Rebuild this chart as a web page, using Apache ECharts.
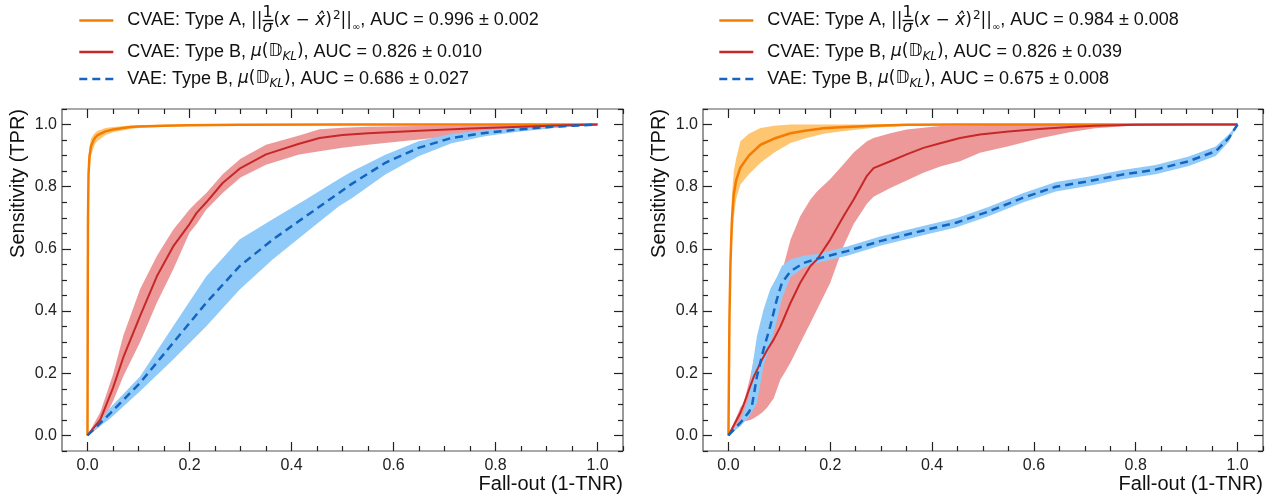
<!DOCTYPE html>
<html>
<head>
<meta charset="utf-8">
<script src="https://cdn.jsdelivr.net/npm/echarts@6/dist/echarts.min.js"></script>
<style>
html,body{margin:0;padding:0;background:#fff;}
#chart{width:1276px;height:500px;}
</style>
</head>
<body>
<div id="chart"></div>
<script>
// ---------- tick values ----------
const xMajor = [0, 0.2, 0.4, 0.6, 0.8, 1.0];
const xMinor = [0.05, 0.1, 0.15, 0.25, 0.3, 0.35, 0.45, 0.5, 0.55, 0.65, 0.7, 0.75, 0.85, 0.9, 0.95, 1.05];
const yMajor = [0, 0.2, 0.4, 0.6, 0.8, 1.0];
const yMinor = [-0.05, 0.05, 0.1, 0.15, 0.25, 0.3, 0.35, 0.45, 0.5, 0.55, 0.65, 0.7, 0.75, 0.85, 0.9, 0.95, 1.05];

// ---------- legend texts ----------
const aucLeft = ['0.996 ± 0.002', '0.826 ± 0.010', '0.686 ± 0.027'];
const aucRight = ['0.984 ± 0.008', '0.826 ± 0.039', '0.675 ± 0.008'];

// ---------- Left panel ----------
const L_A_x = [0, 0.0005, 0.001, 0.002, 0.004, 0.007, 0.012, 0.015, 0.02, 0.03, 0.035, 0.05, 0.084, 0.1, 0.15, 0.2, 0.3, 0.5, 1.0];
const L_A_mean = [0, 0.45, 0.7, 0.84, 0.9, 0.93, 0.95, 0.958, 0.966, 0.974, 0.978, 0.984, 0.992, 0.994, 0.996, 0.998, 0.999, 1.0, 1.0];
const L_A_lo = [0, 0.35, 0.6, 0.78, 0.86, 0.9, 0.925, 0.938, 0.948, 0.96, 0.966, 0.975, 0.986, 0.989, 0.993, 0.996, 0.998, 1.0, 1.0];
const L_A_hi = [0, 0.55, 0.78, 0.88, 0.93, 0.955, 0.968, 0.974, 0.98, 0.986, 0.989, 0.992, 0.997, 0.998, 0.999, 1.0, 1.0, 1.0, 1.0];

const L_B_x = [0, 0.01, 0.025, 0.05, 0.07, 0.103, 0.136, 0.168, 0.2, 0.214, 0.233, 0.265, 0.3, 0.35, 0.415, 0.455, 0.5, 0.55, 0.65, 0.75, 0.85, 0.92, 1.0];
const L_B_mean = [0, 0.02, 0.05, 0.153, 0.25, 0.384, 0.512, 0.608, 0.68, 0.716, 0.75, 0.812, 0.86, 0.904, 0.938, 0.957, 0.966, 0.972, 0.98, 0.987, 0.993, 0.997, 1.0];
const L_B_lo = [0, 0.01, 0.03, 0.11, 0.19, 0.3, 0.427, 0.534, 0.652, 0.68, 0.727, 0.78, 0.83, 0.871, 0.904, 0.914, 0.925, 0.935, 0.952, 0.968, 0.98, 0.99, 1.0];
const L_B_hi = [0, 0.03, 0.075, 0.196, 0.32, 0.47, 0.577, 0.662, 0.727, 0.75, 0.78, 0.84, 0.89, 0.935, 0.965, 0.985, 0.99, 0.993, 0.995, 0.997, 0.998, 0.999, 1.0];

const L_V_x = [0, 0.045, 0.103, 0.168, 0.233, 0.298, 0.363, 0.428, 0.493, 0.519, 0.584, 0.649, 0.714, 0.779, 0.844, 0.909, 1.0];
const L_V_mean = [0, 0.072, 0.169, 0.298, 0.427, 0.544, 0.63, 0.705, 0.78, 0.81, 0.877, 0.925, 0.957, 0.973, 0.984, 0.993, 1.0];
const L_V_lo = [0, 0.055, 0.142, 0.244, 0.351, 0.469, 0.566, 0.652, 0.737, 0.764, 0.839, 0.898, 0.94, 0.962, 0.977, 0.988, 1.0];
const L_V_hi = [0, 0.09, 0.19, 0.351, 0.512, 0.63, 0.695, 0.759, 0.825, 0.85, 0.903, 0.946, 0.97, 0.982, 0.99, 0.996, 1.0];

// ---------- Right panel ----------
const R_A_x = [0, 0.001, 0.002, 0.004, 0.007, 0.0105, 0.015, 0.0235, 0.04, 0.063, 0.09, 0.122, 0.15, 0.187, 0.22, 0.285, 0.35, 0.45, 1.0];
const R_A_mean = [0, 0.2, 0.38, 0.56, 0.7, 0.775, 0.82, 0.862, 0.9, 0.935, 0.955, 0.972, 0.98, 0.988, 0.991, 0.996, 0.999, 1.0, 1.0];
const R_A_lo = [0, 0.14, 0.3, 0.48, 0.62, 0.7, 0.76, 0.807, 0.84, 0.877, 0.91, 0.941, 0.955, 0.97, 0.978, 0.99, 0.995, 1.0, 1.0];
const R_A_hi = [0, 0.26, 0.46, 0.64, 0.78, 0.85, 0.89, 0.946, 0.97, 0.989, 0.996, 1.0, 1.0, 1.0, 1.0, 1.0, 1.0, 1.0, 1.0];

const R_B_x = [0, 0.0235, 0.03, 0.043, 0.05, 0.066, 0.076, 0.089, 0.102, 0.108, 0.122, 0.141, 0.161, 0.174, 0.2, 0.226, 0.246, 0.272, 0.285, 0.318, 0.35, 0.383, 0.416, 0.455, 0.494, 0.55, 0.61, 0.67, 0.72, 0.8, 0.9, 1.0];
const R_B_mean = [0, 0.073, 0.1, 0.159, 0.19, 0.244, 0.275, 0.309, 0.35, 0.373, 0.427, 0.491, 0.545, 0.566, 0.63, 0.705, 0.759, 0.835, 0.86, 0.882, 0.904, 0.925, 0.94, 0.957, 0.968, 0.978, 0.986, 0.992, 0.996, 0.999, 1.0, 1.0];
const R_B_lo = [0, 0.045, 0.045, 0.05, 0.055, 0.073, 0.09, 0.12, 0.18, 0.195, 0.235, 0.297, 0.362, 0.405, 0.491, 0.609, 0.68, 0.745, 0.768, 0.796, 0.82, 0.845, 0.865, 0.882, 0.909, 0.93, 0.955, 0.975, 0.988, 0.997, 1.0, 1.0];
const R_B_hi = [0, 0.09, 0.104, 0.19, 0.244, 0.32, 0.373, 0.44, 0.51, 0.544, 0.63, 0.705, 0.759, 0.785, 0.825, 0.872, 0.91, 0.946, 0.957, 0.972, 0.984, 0.99, 0.995, 0.997, 0.998, 0.999, 1.0, 1.0, 1.0, 1.0, 1.0, 1.0];

const R_V_x = [0, 0.0235, 0.04, 0.046, 0.056, 0.069, 0.082, 0.095, 0.105, 0.122, 0.148, 0.174, 0.233, 0.298, 0.39, 0.447, 0.512, 0.578, 0.643, 0.709, 0.774, 0.839, 0.904, 0.957, 0.983, 1.0];
const R_V_mean = [0, 0.041, 0.075, 0.094, 0.19, 0.277, 0.351, 0.437, 0.491, 0.528, 0.555, 0.568, 0.593, 0.625, 0.662, 0.684, 0.721, 0.764, 0.8, 0.818, 0.839, 0.855, 0.882, 0.914, 0.957, 1.0];
const R_V_lo = [0, 0.03, 0.06, 0.075, 0.104, 0.224, 0.29, 0.37, 0.44, 0.51, 0.54, 0.555, 0.578, 0.61, 0.647, 0.669, 0.706, 0.749, 0.785, 0.803, 0.824, 0.84, 0.867, 0.899, 0.945, 1.0];
const R_V_hi = [0, 0.05, 0.12, 0.212, 0.32, 0.405, 0.47, 0.51, 0.545, 0.567, 0.578, 0.584, 0.608, 0.64, 0.677, 0.699, 0.736, 0.779, 0.815, 0.833, 0.854, 0.87, 0.897, 0.929, 0.969, 1.0];

// ---------- styling ----------
const COL = {
  A: '#f57c00', Aband: '#ffc672',
  B: '#c62828', Bband: '#ee9999',
  V: '#1565c0', Vband: '#90caf9'
};
const FONT = 'Liberation Sans';
const TICK_COLOR = '#222';

function axesFor(dim, gridIndex) {
  const isX = dim === 'x';
  const common = {
    gridIndex, type: 'value', min: -0.05, max: 1.05,
    axisLine: { show: false, onZero: false },
    splitLine: { show: false },
    nameMoveOverlap: false
  };
  const posA = isX ? 'bottom' : 'left';
  const posB = isX ? 'top' : 'right';
  const major = isX ? xMajor : yMajor;
  const minor = isX ? xMinor : yMinor;
  const tickStyle = { color: TICK_COLOR, width: 1.2 };
  const res = [];
  const main = Object.assign({}, common, {
    position: posA,
    axisTick: { show: true, inside: true, length: 9, customValues: major, lineStyle: tickStyle },
    axisLabel: {
      show: true, customValues: major, formatter: v => v.toFixed(1),
      fontFamily: FONT, fontSize: 16, color: TICK_COLOR, margin: isX ? 7 : 5
    }
  });
  if (isX) {
    main.name = 'Fall-out (1-TNR)';
    main.nameLocation = 'end';
    main.nameGap = 0;
    main.nameTextStyle = { fontFamily: FONT, fontSize: 20, color: '#111', align: 'right', verticalAlign: 'top', padding: [23, 0, 0, 0] };
  } else {
    main.name = 'Sensitivity (TPR)';
    main.nameLocation = 'end';
    main.nameGap = 0;
    main.nameRotate = 90;
    main.nameTextStyle = { fontFamily: FONT, fontSize: 20, color: '#111', align: 'right', verticalAlign: 'bottom', padding: [0, 0, 34, 0] };
  }
  res.push(main);
  res.push(Object.assign({}, common, {
    position: posA,
    axisTick: { show: true, inside: true, length: 5, customValues: minor, lineStyle: tickStyle },
    axisLabel: { show: false }
  }));
  res.push(Object.assign({}, common, {
    position: posB,
    axisTick: { show: true, inside: true, length: 9, customValues: major, lineStyle: tickStyle },
    axisLabel: { show: false }
  }));
  res.push(Object.assign({}, common, {
    position: posB,
    axisTick: { show: true, inside: true, length: 5, customValues: minor, lineStyle: tickStyle },
    axisLabel: { show: false }
  }));
  return res;
}

const xAxes = [].concat(axesFor('x', 0), axesFor('x', 1));
const yAxes = [].concat(axesFor('y', 0), axesFor('y', 1));

// band between lower and upper curves, drawn as one polygon through the axes' scales
function band(panel, xs, lo, hi, color) {
  const ax = panel * 4;
  return {
    type: 'custom', xAxisIndex: ax, yAxisIndex: ax, silent: true, z: 1,
    data: xs.map((x, i) => [x, lo[i], hi[i]]),
    encode: { x: 0, y: [1, 2] },
    renderItem: function (params, api) {
      if (params.dataIndex !== 0) return;
      const pts = [];
      for (let i = 0; i < xs.length; i++) pts.push(api.coord([xs[i], hi[i]]));
      for (let i = xs.length - 1; i >= 0; i--) pts.push(api.coord([xs[i], lo[i]]));
      return { type: 'polygon', shape: { points: pts }, style: { fill: color } };
    }
  };
}
function curve(panel, name, xs, mean, color, width, type) {
  const ax = panel * 4;
  return {
    type: 'line', name, xAxisIndex: ax, yAxisIndex: ax, symbol: 'none', showSymbol: false, z: 3,
    data: xs.map((x, i) => [x, mean[i]]),
    lineStyle: { color, width, type },
    itemStyle: { color }
  };
}

const series = [
  band(0, L_A_x, L_A_lo, L_A_hi, COL.Aband),
  band(0, L_B_x, L_B_lo, L_B_hi, COL.Bband),
  band(0, L_V_x, L_V_lo, L_V_hi, COL.Vband),
  band(1, R_A_x, R_A_lo, R_A_hi, COL.Aband),
  band(1, R_B_x, R_B_lo, R_B_hi, COL.Bband),
  band(1, R_V_x, R_V_lo, R_V_hi, COL.Vband),
  curve(0, 'L_A', L_A_x, L_A_mean, COL.A, 2.5, 'solid'),
  curve(0, 'L_B', L_B_x, L_B_mean, COL.B, 2, 'solid'),
  curve(0, 'L_V', L_V_x, L_V_mean, COL.V, 2.5, [8, 5]),
  curve(1, 'R_A', R_A_x, R_A_mean, COL.A, 2.5, 'solid'),
  curve(1, 'R_B', R_B_x, R_B_mean, COL.B, 2, 'solid'),
  curve(1, 'R_V', R_V_x, R_V_mean, COL.V, 2.5, [8, 5])
];

const rich = {
  mu: { fontFamily: 'DejaVu Sans', fontSize: 17, color: '#111' },
  mi: { fontFamily: 'DejaVu Sans', fontStyle: 'italic', fontSize: 17, color: '#111' },
  num: { fontFamily: 'DejaVu Sans', fontSize: 16, color: '#111', width: 0.01, align: 'left', verticalAlign: 'top', lineHeight: 31 },
  den: { fontFamily: 'DejaVu Sans', fontStyle: 'italic', fontSize: 16, color: '#111', width: 0.01, align: 'left', verticalAlign: 'bottom' },
  bar: { width: 11, height: 1.4, backgroundColor: '#111', verticalAlign: 'middle', fontSize: 10 },
  sup: { fontFamily: 'DejaVu Sans', fontSize: 12, color: '#111', verticalAlign: 'top', padding: [5, 0, 0, 1] },
  inf: { fontFamily: 'DejaVu Sans', fontSize: 10, color: '#111', verticalAlign: 'bottom', padding: [0, 0, 4, 0] },
  sub: { fontFamily: 'DejaVu Sans', fontStyle: 'italic', fontSize: 12, color: '#111', verticalAlign: 'bottom' }
};

function legendText(kind, auc) {
  if (kind === 'A') {
    return 'CVAE: Type A, {mu|||}{num|1}{den|σ}{bar| }{mu|(}{mi|x}{mu| − }{mi|x\u0302}{mu|)}{sup|2}{mu|||}{inf|∞}, AUC = ' + auc;
  }
  const pre = kind === 'B' ? 'CVAE: Type B, ' : 'VAE: Type B, ';
  return pre + '{mi|μ}{mu|(}{mi|\u{1D53B}}{sub|KL}{mu|)}, AUC = ' + auc;
}
const legendMap = {
  L_A: legendText('A', aucLeft[0]), L_B: legendText('B', aucLeft[1]), L_V: legendText('V', aucLeft[2]),
  R_A: legendText('A', aucRight[0]), R_B: legendText('B', aucRight[1]), R_V: legendText('V', aucRight[2])
};

function legend(left, names) {
  return {
    data: names, left, top: 0, orient: 'vertical', itemGap: 5,
    itemWidth: 34, itemHeight: 14, selectedMode: false,
    itemStyle: { opacity: 0 },
    lineStyle: { width: 2.6 },
    formatter: n => legendMap[n],
    textStyle: { fontFamily: FONT, fontSize: 18, color: '#111', lineHeight: 22, padding: [0, 0, 0, 9], rich }
  };
}

const option = {
  animation: false,
  backgroundColor: '#fff',
  grid: [
    { left: 62, top: 109, width: 561, height: 342, show: true, borderColor: '#555', borderWidth: 1.2, backgroundColor: 'transparent', outerBoundsMode: 'none' },
    { left: 703, top: 109, width: 560, height: 342, show: true, borderColor: '#555', borderWidth: 1.2, backgroundColor: 'transparent', outerBoundsMode: 'none' }
  ],
  legend: [legend(73, ['L_A', 'L_B', 'L_V']), legend(713, ['R_A', 'R_B', 'R_V'])],
  xAxis: xAxes,
  yAxis: yAxes,
  series
};

const chart = echarts.init(document.getElementById('chart'), null, { renderer: 'canvas' });
chart.setOption(option);
</script>
</body>
</html>
